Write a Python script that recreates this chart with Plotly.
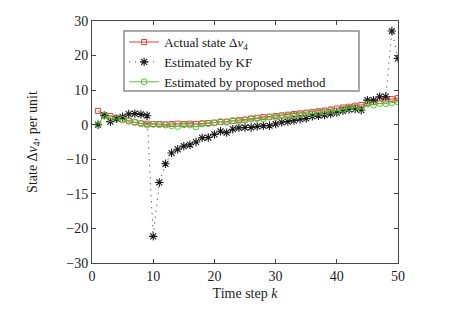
import plotly.graph_objects as go

k = list(range(1, 51))

actual = [4.0, 2.7, 2.5, 2.0, 1.5, 1.2, 0.7, 0.4, 0.3, 0.2,
          0.2, 0.1, 0.2, 0.3, 0.2, 0.3, 0.2, 0.4, 0.5, 0.6,
          0.8, 0.9, 1.1, 1.3, 1.5, 1.8, 2.0, 2.2, 2.3, 2.5,
          2.7, 2.9, 3.1, 3.3, 3.5, 3.7, 3.9, 4.1, 4.4, 4.7,
          5.0, 5.2, 5.5, 5.7, 6.2, 6.6, 6.9, 7.3, 7.4, 7.7]

kf = [0.0, 2.7, 0.9, 1.7, 2.3, 3.1, 3.2, 3.0, 2.6, -32.3,
      -16.7, -11.3, -8.2, -7.1, -6.2, -5.8, -5.0, -3.8, -3.7, -2.8,
      -1.9, -2.3, -1.3, -0.9, -0.8, -0.8, -0.5, -0.3, -0.3, 0.2,
      0.7, 0.9, 1.2, 1.6, 1.8, 2.4, 2.6, 2.8, 3.1, 3.5,
      4.0, 4.4, 4.5, 4.2, 7.1, 7.1, 8.1, 8.1, 27.1, 19.2]

proposed = [0.0, 2.7, 1.8, 1.6, 1.5, 1.0, 0.7, 0.3, -0.1, 0.1,
            0.0, -0.1, -0.3, -0.5, 0.0, -0.1, -0.6, 0.2, 0.3, 0.5,
            0.9, 0.7, 1.2, 1.0, 1.3, 1.6, 1.8, 1.7, 2.2, 2.1,
            2.6, 2.5, 2.7, 2.9, 3.3, 3.2, 3.6, 3.7, 4.2, 4.0,
            4.5, 4.8, 5.0, 4.5, 6.0, 5.7, 6.1, 6.1, 6.4, 6.6]

y_tickvals = [30, 20, 10, 0, -10, -20, -30, -40]
y_ticktext = ["30", "20", "10", "0", "\u221210", "\u221215", "\u221220", "\u221230"]
x_tickvals = [0, 10, 20, 30, 40, 50]

serif = "Liberation Serif, Times New Roman, serif"
red = "rgb(232,60,60)"
green = "rgb(90,190,60)"
txt = "rgb(30,30,30)"

fig = go.Figure()
fig.add_trace(go.Scatter(
    x=k, y=actual, mode="lines+markers",
    name="Actual state \u0394<i>v</i><sub>4</sub>",
    line=dict(color=red, width=1),
    marker=dict(symbol="square-open", size=5, color=red, line=dict(width=1, color=red)),
))
fig.add_trace(go.Scatter(
    x=k, y=kf, mode="lines+markers",
    name="Estimated by KF",
    line=dict(color="rgb(40,40,40)", width=1, dash="1px,5px"),
    marker=dict(symbol="asterisk-open", size=7, color="rgb(25,25,25)", line=dict(width=1.1, color="rgb(25,25,25)")),
))
fig.add_trace(go.Scatter(
    x=k, y=proposed, mode="lines+markers",
    name="Estimated by proposed method",
    line=dict(color=green, width=1),
    marker=dict(symbol="circle-open", size=6, color=green, line=dict(width=1, color=green)),
))

axis_common = dict(
    showline=True, linecolor="rgb(70,70,70)", linewidth=1, mirror="ticks",
    ticks="inside", ticklen=4, tickcolor="rgb(70,70,70)", showgrid=False, zeroline=False,
    tickfont=dict(family=serif, size=14, color=txt),
)

fig.update_layout(
    width=449, height=326,
    margin=dict(l=92, r=51, t=21, b=63),
    paper_bgcolor="white", plot_bgcolor="white",
    xaxis=dict(range=[0, 50], tickvals=x_tickvals,
               title=dict(text="Time step <i>k</i>", font=dict(family=serif, size=14, color=txt), standoff=5),
               **axis_common),
    yaxis=dict(range=[-40, 30], tickvals=y_tickvals, ticktext=y_ticktext,
               title=dict(text="State \u0394<i>v</i><sub>4</sub>, per unit", font=dict(family=serif, size=14, color=txt), standoff=25),
               **axis_common),
    shapes=[dict(type="rect", xref="paper", yref="paper",
                 x0=0.1046, x1=0.8725, y0=0.7107, y1=0.9587,
                 line=dict(color="rgb(140,140,140)", width=1.5),
                 fillcolor="white", layer="above")],
    legend=dict(x=0.105, y=0.975, xanchor="left", yanchor="top",
                bgcolor="rgba(0,0,0,0)", borderwidth=0,
                font=dict(family=serif, size=13, color="rgb(20,20,20)"),
                tracegroupgap=0, itemwidth=30),
    showlegend=True,
)

fig.write_html("out.html")
